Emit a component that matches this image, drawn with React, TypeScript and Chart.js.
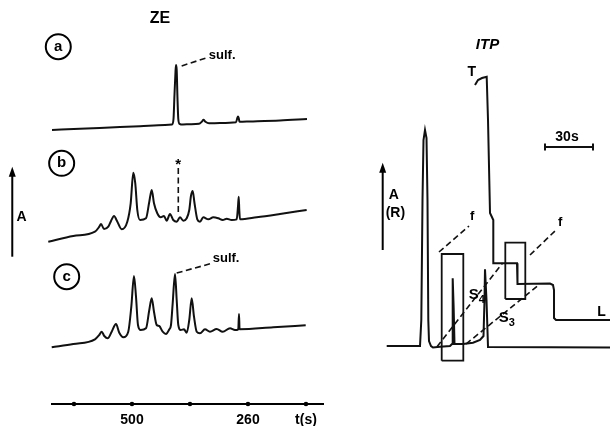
import React, { useEffect, useRef } from "react";
import { Chart, registerables } from "chart.js";
Chart.register(...registerables);

// ---------- ZE panel (zone electrophoresis): x = time t (s), y = absorbance (stacked, arb. units)
const ZE_TICKS = [620, 500, 380, 260, 140];
const ZE_TICK_LABELS = ["", "500", "", "260", "t(s)"];

const ZE_A_T = [665.5, 607.6, 545.5, 483.4, 431.7, 417.2, 414.1, 412.1, 410.0, 409.0, 407.5, 405.9, 404.2, 401.7, 394.5, 380.0, 361.4, 355.2, 352.1, 348.0, 340.7, 317.9, 284.8, 282.1, 280.7, 279.2, 277.6, 255.9, 193.8, 137.9];
const ZE_A_Y = [274, 275.2, 276.5, 277.8, 279, 279.4, 285, 309, 332, 339, 334, 306, 285, 280.2, 279.5, 279.8, 280.2, 282.5, 284.2, 282.2, 280.7, 281, 281.8, 286, 287.5, 286, 282.2, 282.5, 283.5, 285];

const ZE_B_T = [673.2, 621.5, 576.6, 567.7, 564.1, 557.9, 549.0, 543.4, 537.2, 531.0, 521.3, 509.7, 502.7, 497.3, 493.2, 489.0, 483.4, 471.0, 464.2, 459.2, 454.5, 447.7, 440.6, 433.8, 428.2, 421.4, 414.6, 407.5, 400.7, 393.9, 386.8, 381.5, 378.0, 374.4, 370.7, 364.9, 359.3, 352.5, 342.1, 331.8, 321.4, 312.3, 304.0, 293.7, 283.4, 280.7, 279.2, 278.0, 276.6, 242.0, 193.8, 138.6];
const ZE_B_Y = [162.3, 168, 172.3, 177.3, 180, 175, 177.3, 183, 188, 183, 174.7, 182.3, 200.7, 231.3, 220.7, 194, 184, 185.7, 202.3, 214, 200.7, 190.7, 186.7, 188, 183.3, 190, 184, 182.3, 186.7, 183.3, 185.7, 194, 208, 213, 201, 184.7, 182.3, 186.7, 184.7, 186.7, 185.7, 184, 185.3, 184, 184.7, 197.3, 207.3, 194, 184.7, 186.7, 190, 194];

const ZE_C_T = [666.1, 621.5, 576.6, 567.7, 562.7, 557.3, 550.3, 542.0, 533.1, 526.3, 518.0, 507.7, 501.4, 495.9, 491.7, 487.6, 482.0, 471.0, 464.2, 459.2, 454.5, 448.9, 443.7, 436.5, 429.7, 422.8, 419.3, 415.8, 411.0, 407.5, 404.2, 399.2, 392.4, 386.8, 381.5, 376.5, 371.7, 366.1, 359.3, 349.0, 338.6, 324.8, 312.3, 297.2, 286.9, 280.1, 278.6, 277.4, 207.7, 140.6];
const ZE_C_Y = [56.7, 60, 64.7, 69, 72.3, 68, 65.7, 72.3, 80, 71.3, 66.7, 72.3, 97.3, 128, 107.3, 79, 74, 75.7, 94, 105.7, 92.3, 79, 78, 72.3, 70, 74.7, 79, 100.7, 130, 104, 79, 74, 74.7, 71.3, 84, 105.7, 87.3, 72.3, 70.7, 74.7, 72.3, 75, 72.3, 75.7, 74, 74.7, 90, 74.7, 76.7, 78.7];

// leader lines (dashed)
const SULF_A_LEADER_T = [397.2, 342.8];
const SULF_A_LEADER_Y = [338, 346.7];
const SULF_C_LEADER_T = [407.5, 332.4];
const SULF_C_LEADER_Y = [131, 141];
const STAR_LEADER_T = [404.2, 404.2];
const STAR_LEADER_Y = [236, 192];

// ---------- ITP panel: x = time (s), y = detector signal (arb. units)
const ITP_A_T = [26.06, 46.88, 47.69, 48.44, 49.06, 50.0, 50.94, 51.56, 52.06, 52.5, 53.75, 55.0, 59.38, 65.63, 66.88, 67.31, 67.9, 68.44, 73.75, 80.0, 84.38, 86.56, 87.19, 87.5, 88.44, 89.38, 128.13, 165.63];
const ITP_A_Y = [1, 1, 27, 147, 207, 217, 209, 147, 27, 6, 1, -0.5, 0.3, 1, 3, 68.7, 40, 3, 3, 4.3, 7, 11, 47, 77.7, 47, 0, -0.3, -0.5];

const ITP_R_T = [81.25, 83.13, 85.63, 88.56, 89.38, 90.63, 92.69, 92.69, 107.5, 107.81, 128.13, 130.0, 130.63, 130.63, 131.88, 165.63];
const ITP_R_Y = [262, 267, 269, 270.3, 227, 134, 127, 83.7, 83.7, 63, 63.5, 62, 57, 29, 27, 27];

const BOX1_T = [60.44, 73.94, 73.94, 60.44, 60.44];
const BOX1_Y = [-13.7, -13.7, 93, 93, -13.7];
const BOX2_T = [100.19, 112.69, 112.69, 100.19, 100.19];
const BOX2_Y = [48, 48, 104.3, 104.3, 48];

const F1_T = [58.75, 77.5];
const F1_Y = [95, 121];
const F2_T = [115.63, 131.88];
const F2_Y = [92, 117];
const S4_T = [57.5, 98.5];
const S4_Y = [0.3, 84];
const S3_T = [75.63, 121.0];
const S3_Y = [3, 62];

const BAR_T = [125, 155]; // 30 s scale bar
const BAR_Y = [200, 200];

const FONT = "'Liberation Sans', Arial, sans-serif";

const pts = (xs: number[], ys: number[]) => xs.map((x, i) => ({ x, y: ys[i] }));

const trace = (xs: number[], ys: number[], extra: any = {}) => ({
  data: pts(xs, ys),
  showLine: true,
  borderColor: "#111",
  backgroundColor: "#111",
  borderWidth: 2,
  pointRadius: 0,
  clip: false,
  ...extra,
});

function vArrow(ctx: CanvasRenderingContext2D, x: number, yBottom: number, yTop: number) {
  ctx.lineWidth = 2;
  ctx.beginPath();
  ctx.moveTo(x, yBottom);
  ctx.lineTo(x, yTop + 6);
  ctx.stroke();
  ctx.beginPath();
  ctx.moveTo(x, yTop);
  ctx.lineTo(x - 3.5, yTop + 10);
  ctx.lineTo(x + 3.5, yTop + 10);
  ctx.closePath();
  ctx.fill();
}

const zeDecor = {
  id: "zeDecor",
  afterDatasetsDraw(chart: any) {
    const { ctx } = chart;
    const xs = chart.scales.x;
    const ys = chart.scales.y;
    const px = (t: number) => xs.getPixelForValue(t);
    const py = (v: number) => ys.getPixelForValue(v);
    ctx.save();
    ctx.fillStyle = "#000";
    ctx.strokeStyle = "#000";
    ctx.textBaseline = "middle";
    // title
    ctx.textAlign = "center";
    ctx.font = `bold 16px ${FONT}`;
    ctx.fillText("ZE", px(442), py(385));
    // panel letters in circles
    const circles: [string, number, number][] = [
      ["a", 652.5, 357.3],
      ["b", 645.5, 240.7],
      ["c", 635.1, 127.3],
    ];
    for (const [l, t, v] of circles) {
      const cx = px(t), cy = py(v);
      ctx.lineWidth = 2;
      ctx.beginPath();
      ctx.arc(cx, cy, 12.5, 0, Math.PI * 2);
      ctx.stroke();
      ctx.font = `bold 15px ${FONT}`;
      ctx.fillText(l, cx, cy);
    }
    // sulf. labels
    ctx.textAlign = "left";
    ctx.font = `bold 13px ${FONT}`;
    ctx.fillText("sulf.", px(341), py(349));
    ctx.fillText("sulf.", px(333), py(146));
    // asterisk
    ctx.textAlign = "center";
    ctx.font = `bold 15px ${FONT}`;
    ctx.fillText("*", px(404.2), py(239.5));
    // absorbance arrow
    vArrow(ctx, px(747.7), py(147.3), py(237.3));
    ctx.font = `bold 14px ${FONT}`;
    ctx.fillText("A", px(728.3), py(187.3));
    ctx.restore();
  },
};

const itpDecor = {
  id: "itpDecor",
  afterDatasetsDraw(chart: any) {
    const { ctx } = chart;
    const xs = chart.scales.x;
    const ys = chart.scales.y;
    const px = (t: number) => xs.getPixelForValue(t);
    const py = (v: number) => ys.getPixelForValue(v);
    ctx.save();
    ctx.fillStyle = "#000";
    ctx.strokeStyle = "#000";
    ctx.textBaseline = "middle";
    ctx.textAlign = "center";
    ctx.font = `italic bold 15px ${FONT}`;
    ctx.fillText("ITP", px(89.06), py(302));
    ctx.font = `bold 14px ${FONT}`;
    ctx.fillText("T", px(79.2), py(275.3));
    ctx.fillText("30s", px(138.75), py(210));
    ctx.fillText("L", px(160.4), py(35.3));
    ctx.fillText("A", px(30.5), py(152));
    ctx.fillText("(R)", px(31.5), py(133.7));
    ctx.font = `bold 13px ${FONT}`;
    ctx.fillText("f", px(79.5), py(130.3));
    ctx.fillText("f", px(134.4), py(124.3));
    // S4 / S3
    const sub = (main: string, s: string, t: number, v: number) => {
      const x = px(t), y = py(v);
      ctx.textAlign = "left";
      ctx.font = `bold 15px ${FONT}`;
      ctx.fillText(main, x - 8, y);
      const w = ctx.measureText(main).width;
      ctx.font = `bold 11px ${FONT}`;
      ctx.fillText(s, x - 8 + w, y + 5);
    };
    sub("S", "4", 82.3, 52);
    sub("S", "3", 101.1, 28.7);
    vArrow(ctx, px(23.56), py(97), py(184.3));
    ctx.restore();
  },
};

export default function App() {
  const zeRef = useRef<HTMLCanvasElement>(null);
  const itpRef = useRef<HTMLCanvasElement>(null);

  useEffect(() => {
    const dashed = { borderWidth: 1.6, borderDash: [6, 3.5] };
    const ze = new Chart(zeRef.current as HTMLCanvasElement, {
      type: "scatter",
      data: {
        datasets: [
          trace(ZE_A_T, ZE_A_Y, { cubicInterpolationMode: "monotone" }),
          trace(ZE_B_T, ZE_B_Y, { cubicInterpolationMode: "monotone" }),
          trace(ZE_C_T, ZE_C_Y, { cubicInterpolationMode: "monotone" }),
          trace(SULF_A_LEADER_T, SULF_A_LEADER_Y, dashed),
          trace(SULF_C_LEADER_T, SULF_C_LEADER_Y, dashed),
          trace(STAR_LEADER_T, STAR_LEADER_Y, dashed),
          // tick dots sitting on the time axis
          {
            data: ZE_TICKS.map((x) => ({ x, y: 0 })),
            showLine: false,
            pointRadius: 2.3,
            pointBackgroundColor: "#000",
            pointBorderWidth: 0,
            clip: false,
          },
        ],
      },
      options: {
        animation: false,
        responsive: false,
        events: [],
        layout: { autoPadding: false, padding: { left: 52, right: 22, top: 0, bottom: 0 } },
        plugins: { legend: { display: false }, tooltip: { enabled: false } },
        scales: {
          x: {
            type: "linear",
            reverse: true,
            min: 104.8,
            max: 665.5,
            afterFit: (s: any) => {
              s.height = 22;
            },
            afterBuildTicks: (s: any) => {
              s.ticks = ZE_TICKS.map((value) => ({ value }));
            },
            grid: {
              display: true,
              drawOnChartArea: false,
              drawTicks: false,
              tickLength: 0,
            },
            border: { display: true, color: "#000", width: 2 },
            ticks: {
              padding: 8,
              color: "#000",
              maxRotation: 0,
              autoSkip: false,
              font: { family: FONT, size: 14, weight: "bold" },
              callback: (v: any) => {
                const i = ZE_TICKS.indexOf(Number(v));
                return i >= 0 ? ZE_TICK_LABELS[i] : "";
              },
            },
          },
          y: { type: "linear", display: false, min: 0, max: 404 },
        },
      },
      plugins: [zeDecor],
    } as any);

    const itp = new Chart(itpRef.current as HTMLCanvasElement, {
      type: "scatter",
      data: {
        datasets: [
          trace(ITP_A_T, ITP_A_Y),
          trace(ITP_R_T, ITP_R_Y),
          trace(BOX1_T, BOX1_Y, { borderWidth: 1.8 }),
          trace(BOX2_T, BOX2_Y, { borderWidth: 1.8 }),
          trace(F1_T, F1_Y, dashed),
          trace(F2_T, F2_Y, dashed),
          trace(S4_T, S4_Y, dashed),
          trace(S3_T, S3_Y, dashed),
          trace(BAR_T, BAR_Y, {
            borderWidth: 2,
            pointRadius: 3.5,
            pointStyle: "line",
            rotation: 90,
            pointBorderWidth: 2,
            pointBorderColor: "#111",
          }),
        ],
      },
      options: {
        animation: false,
        responsive: false,
        events: [],
        layout: { autoPadding: false, padding: 0 },
        plugins: { legend: { display: false }, tooltip: { enabled: false } },
        scales: {
          x: { type: "linear", display: false, min: 0, max: 165.625 },
          y: { type: "linear", display: false, min: -79, max: 347 },
        },
      },
      plugins: [itpDecor],
    } as any);

    return () => {
      ze.destroy();
      itp.destroy();
    };
  }, []);

  return (
    <div
      style={{
        position: "absolute",
        left: 0,
        top: 0,
        width: 610,
        height: 426,
        background: "#fff",
        overflow: "hidden",
      }}
    >
      <canvas
        ref={zeRef}
        width={345}
        height={426}
        style={{ position: "absolute", left: 0, top: 0 }}
      />
      <canvas
        ref={itpRef}
        width={265}
        height={426}
        style={{ position: "absolute", left: 345, top: 0 }}
      />
    </div>
  );
}
